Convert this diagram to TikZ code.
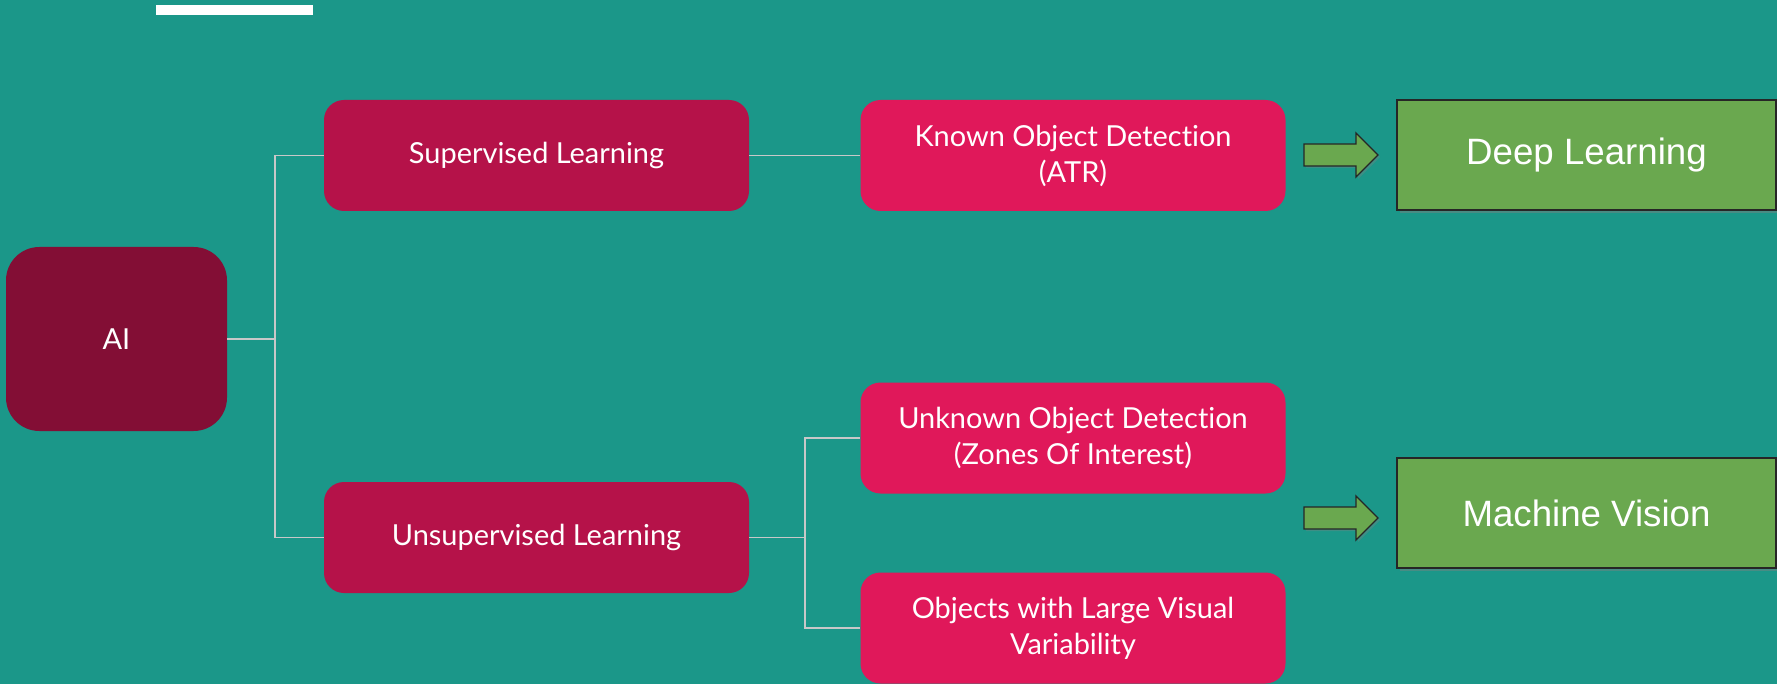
\documentclass[tikz,border=0pt]{standalone}
\usepackage{fontspec}
\setmainfont{Lato}[Ligatures={NoCommon,NoRare}]
\newfontfamily\arialfont{Liberation Sans}
\usetikzlibrary{shadows}

\definecolor{teal bg}{RGB}{27,151,137}
\definecolor{ai red}{RGB}{131,14,53}
\definecolor{learn red}{RGB}{181,18,73}
\definecolor{task pink}{RGB}{224,24,90}
\definecolor{result green}{RGB}{106,168,79}
\definecolor{link gray}{RGB}{200,200,200}

\tikzset{
	box/.style={rounded corners=15pt, text=white, align=center, inner sep=0pt,
		font=\fontsize{21.7}{27}\selectfont, minimum width=318.75pt, minimum height=83.25pt},
	rootbox/.style={box, fill=ai red, rounded corners=25pt, minimum width=165.75pt, minimum height=138pt},
	learnbox/.style={box, fill=learn red},
	taskbox/.style={box, fill=task pink},
	resultbox/.style={fill=result green, draw=black!85, line width=0.9pt, text=white,
		font=\arialfont\fontsize{27.5}{33}\selectfont, minimum width=284.25pt, minimum height=82.5pt,
		drop shadow={shadow xshift=2pt, shadow yshift=-2pt, opacity=0.45}},
	link/.style={draw=link gray, line width=1.2pt},
	fatarrow/.style={fill=result green, draw=black!85, line width=1pt, line join=miter,
		drop shadow={shadow xshift=1.5pt, shadow yshift=-1.5pt, opacity=0.35}}
}

\begin{document}
\begin{tikzpicture}[x=0.75pt,y=-0.75pt]
	% Background and the bar at the top
	\path[use as bounding box, fill=teal bg] (0,0) rectangle (1777,684);
	\fill[white] (156,5) rectangle (313,15);
	
	% Root and the two kinds of learning
	\node[rootbox] (ai) at (116.5,339) {AI};
	\node[learnbox] (sup) at (536.5,155.5) {Supervised Learning};
	\node[learnbox] (unsup) at (536.5,537.5) {Unsupervised Learning};
	
	% Detection tasks
	\node[taskbox] (known) at (1073,155.5) {Known Object Detection\\(ATR)};
	\node[taskbox] (unknown) at (1073,438) {Unknown Object Detection\\(Zones Of Interest)};
	\node[taskbox] (objects) at (1073,628) {Objects with Large Visual\\Variability};
	
	% Results
	\node[resultbox] (deep) at (1586.5,155) {Deep Learning};
	\node[resultbox] (vision) at (1586.5,513) {Machine Vision};
	
	% Tree lines
	\coordinate (ai split) at (275,339);
	\coordinate (unsup split) at (805,537.5);
	\draw[link] (ai.east) -- (ai split) |- (sup.west);
	\draw[link] (ai split) |- (unsup.west);
	\draw[link] (sup.east) -- (known.west);
	\draw[link] (unsup.east) -- (unsup split) |- (unknown.west);
	\draw[link] (unsup split) |- (objects.west);
	
	% Block arrows towards the results
	\foreach \y in {155,518}
	\draw[fatarrow, shift={(1304,\y)}] (0,-11) -- (52,-11) -- (52,-22) -- (74,0) -- (52,22) -- (52,11) -- (0,11) -- cycle;
\end{tikzpicture}
\end{document}
